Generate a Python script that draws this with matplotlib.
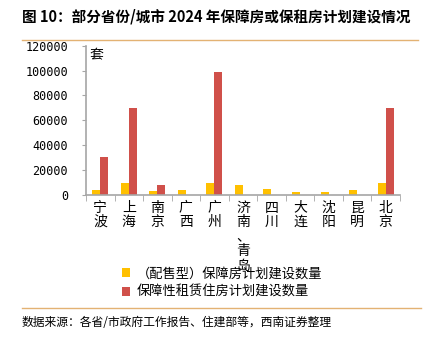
import numpy as np
import matplotlib
matplotlib.use("Agg")
import matplotlib.pyplot as plt
from matplotlib.lines import Line2D

plt.rcParams['font.family'] = ['Noto Sans CJK SC', 'DejaVu Sans']

cities = ["宁波", "上海", "南京", "广西", "广州", "济南、青岛", "四川", "大连", "沈阳", "昆明", "北京"]
sale_type = [4000, 10000, 3000, 4000, 10000, 8000, 5000, 2000, 2000, 4000, 10000]
rental = [30500, 70000, 8000, 0, 99000, 0, 0, 0, 0, 0, 70000]
yticks = [0, 20000, 40000, 60000, 80000, 100000, 120000]
labels = ["（配售型）保障房计划建设数量", "保障性租赁住房计划建设数量"]

yellow = "#FFC000"
red = "#D0504A"
axis_gray = "#A6A6A6"
line_orange = "#E3B273"

fig = plt.figure(figsize=(4.29, 3.48), dpi=100)
ax = fig.add_axes([0.2005, 0.4397, 0.7315, 0.429])

x = np.arange(len(cities))
w = 0.28
ax.bar(x - w / 2, sale_type, width=w, color=yellow, label=labels[0])
ax.bar(x + w / 2, rental, width=w, color=red, label=labels[1])

ax.set_xlim(-0.5, len(cities) - 0.5)
ax.set_ylim(0, 120000)
ax.set_yticks(yticks)
ax.set_yticklabels([str(v) for v in yticks], family='DejaVu Sans Mono', fontsize=8.5)

# category labels stacked vertically
ax.set_xticks(x)
ax.set_xticklabels(["\n".join(c) for c in cities], fontsize=10, linespacing=1.05, va='top')
ax.tick_params(axis='x', length=0, pad=4)
ax.set_xticks(np.arange(len(cities) + 1) - 0.5, minor=True)
ax.tick_params(axis='x', which='minor', length=4, color=axis_gray, direction='out')
ax.tick_params(axis='y', length=3, color=axis_gray, direction='out', pad=10)

for s in ['top', 'right']:
    ax.spines[s].set_visible(False)
for s in ['left', 'bottom']:
    ax.spines[s].set_color(axis_gray)
    ax.spines[s].set_linewidth(1.2)

ax.text(0.012, 0.985, "套", transform=ax.transAxes, fontsize=10, va='top', ha='left')

fig.legend(loc='upper left', bbox_to_anchor=(0.285, 0.232), frameon=False, fontsize=9.5,
           handlelength=0.6, handleheight=0.6, handletextpad=0.5, labelspacing=0.44,
           borderaxespad=0, borderpad=0)

fig.text(0.051, 0.953, "图 10：部分省份/城市 2024 年保障房或保租房计划建设情况",
         fontsize=10.5, fontweight='bold', va='center', ha='left')
fig.add_artist(Line2D([0.051, 0.975], [0.885, 0.885], transform=fig.transFigure,
                      color=line_orange, lw=1.0))
fig.add_artist(Line2D([0.051, 0.982], [0.115, 0.115], transform=fig.transFigure,
                      color=line_orange, lw=1.0))
fig.text(0.051, 0.072, "数据来源：各省/市政府工作报告、住建部等，西南证券整理",
         fontsize=8.5, style='italic', va='center', ha='left')

fig.savefig("out.png", dpi=100)
